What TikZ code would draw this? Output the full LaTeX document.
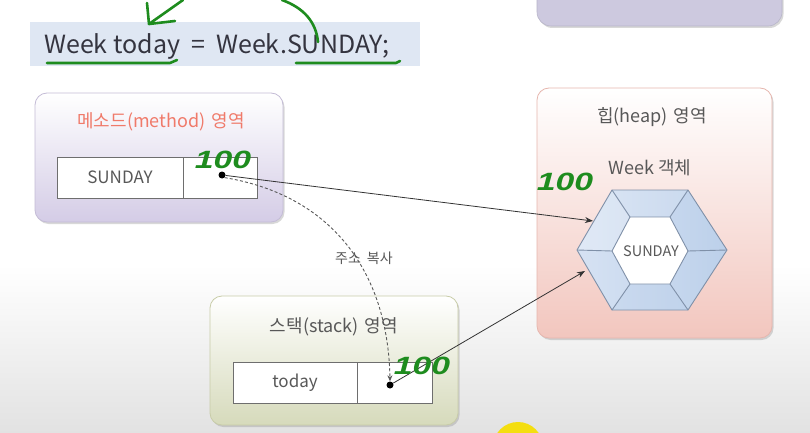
\documentclass[tikz,border=0pt]{standalone}
\usepackage{fontspec}
\setmainfont{Noto Sans CJK KR}
\newfontfamily\handfont{Liberation Sans}
\usetikzlibrary{shadows,arrows.meta,calc}
\definecolor{bggray}{HTML}{E2E2E2}
\definecolor{banner}{HTML}{DFE7F3}
\definecolor{codetxt}{HTML}{34343F}
\definecolor{txtgray}{HTML}{585858}
\definecolor{salmon}{HTML}{F07A6A}
\definecolor{lavtop}{HTML}{CDC9DF}
\definecolor{methbot}{HTML}{D4CCE6}
\definecolor{methbrd}{HTML}{C4BCD6}
\definecolor{heapbot}{HTML}{F2C6BE}
\definecolor{heapbrd}{HTML}{E6B6AE}
\definecolor{stackbot}{HTML}{D6DABB}
\definecolor{stackbrd}{HTML}{C8CCA8}
\definecolor{cellbrd}{HTML}{6E6E6E}
\definecolor{hexl}{HTML}{D6E2F3}
\definecolor{hexr}{HTML}{BCD0EA}
\definecolor{hexbrd}{HTML}{7F90A8}
\definecolor{hgreen}{HTML}{1E8C1E}
\definecolor{blob}{HTML}{F4DE10}
\tikzset{
  region/.style={rounded corners=12pt, line width=0.8pt, top color=white,
    drop shadow={shadow xshift=1.5pt, shadow yshift=-2pt, opacity=.3, fill=gray}},
  title/.style={font=\fontsize{18}{20}\selectfont, text=txtgray, inner sep=0pt},
  cell/.style={draw=cellbrd, line width=0.8pt, fill=white, font=\fontsize{17}{18}\selectfont, text=txtgray, inner sep=0pt},
  refdot/.style={circle, fill=black, inner sep=0pt, minimum size=7pt},
  ptr/.style={-{Stealth[length=8pt,width=6pt]}, line width=0.8pt, draw=black!80},
  copyptr/.style={-{Stealth[length=6pt,width=5pt]}, line width=0.9pt, draw=black!65, dash pattern=on 3pt off 2.2pt},
  hand/.style={draw=hgreen, line width=2.6pt, line cap=round, line join=round},
  greennum/.style={text=hgreen, font=\handfont\bfseries\itshape\fontsize{25}{25}\selectfont, inner sep=0pt, xscale=1.35}
}
\begin{document}
\begin{tikzpicture}[x=1pt,y=-1pt]
\useasboundingbox (0,0) rectangle (810,433);
\begin{scope}
\clip (0,0) rectangle (810,433);
% background
\fill[white] (0,0) rectangle (810,433);
\shade[top color=white, bottom color=bggray] (0,265) rectangle (810,433);
\fill[blob] (518,447) circle (25);
% top right box (partly cut)
\path[rounded corners=14pt, fill=lavtop, draw=lavtop!90!black, line width=0.6pt,
  drop shadow={shadow xshift=1.5pt, shadow yshift=-2pt, opacity=.3, fill=gray}]
  (537,-30) rectangle (782,26);
\end{scope}

% code banner
\node[fill=banner, minimum width=390pt, minimum height=44pt, inner sep=0pt] (banner) at (225,44) {};
\node[anchor=west, text=codetxt, font=\fontsize{25}{26}\selectfont, inner sep=0pt] (code) at (44,46)
  {Week\hspace{6pt}today\hspace{11pt}=\hspace{11pt}Week.SUNDAY;};

% method area
\node[region, draw=methbrd, bottom color=methbot, minimum width=248pt, minimum height=129pt] (method) at (159,157.5) {};
\node[title, text=salmon] (mtitle) at (161,122) {메소드(method)\hspace{6pt}영역};
\node[cell, minimum width=126pt, minimum height=41pt] (msun) at (120,177.5) {SUNDAY};
\node[cell, minimum width=74pt, minimum height=41pt] (mref) at (220,177.5) {};
\node[refdot] (mdot) at (222,175) {};

% heap area
\node[region, draw=heapbrd, bottom color=heapbot, minimum width=235pt, minimum height=250pt] (heap) at (654.5,213) {};
\node[title] (htitle) at (652,117) {힙(heap)\hspace{6pt}영역};
\node[title] (hweek) at (650,168) {Week\hspace{4pt}객체};
% hexagon
\coordinate (oL) at (577,250); \coordinate (oTL) at (612,190); \coordinate (oTR) at (688,190);
\coordinate (oR) at (727,250); \coordinate (oBR) at (688,310); \coordinate (oBL) at (612,310);
\coordinate (iL) at (612,251); \coordinate (iTL) at (630,217); \coordinate (iTR) at (670,217);
\coordinate (iR) at (688,251); \coordinate (iBR) at (670,284); \coordinate (iBL) at (630,284);
\shade[left color=hexl, right color=hexr] (oL) -- (oTL) -- (oTR) -- (oR) -- (oBR) -- (oBL) -- cycle;
\fill[white, opacity=.25] (oL) -- (oTL) -- (iTL) -- (iL) -- cycle;
\fill[white, opacity=.15] (oTL) -- (oTR) -- (iTR) -- (iTL) -- cycle;
\fill[hexr, opacity=.3] (oBL) -- (oBR) -- (iBR) -- (iBL) -- cycle;
\fill[white] (iL) -- (iTL) -- (iTR) -- (iR) -- (iBR) -- (iBL) -- cycle;
\draw[hexbrd, line width=0.9pt, line join=round] (oL) -- (oTL) -- (oTR) -- (oR) -- (oBR) -- (oBL) -- cycle;
\draw[hexbrd, line width=0.9pt, line join=round] (iL) -- (iTL) -- (iTR) -- (iR) -- (iBR) -- (iBL) -- cycle;
\draw[hexbrd, line width=0.9pt] (oL) -- (iL) (oTL) -- (iTL) (oTR) -- (iTR) (oR) -- (iR) (oBR) -- (iBR) (oBL) -- (iBL);
\node[font=\fontsize{14.5}{16}\selectfont, text=txtgray, inner sep=0pt] (hsun) at (651,251) {SUNDAY};
\coordinate (hexA) at (593,221);
\coordinate (hexB) at (585,271);

% stack area
\node[region, draw=stackbrd, bottom color=stackbot, minimum width=248pt, minimum height=129pt] (stack) at (334,360.5) {};
\node[title] (stitle) at (334,327) {스택(stack)\hspace{6pt}영역};
\node[cell, minimum width=124pt, minimum height=41pt] (stoday) at (295,382.5) {today};
\node[cell, minimum width=75pt, minimum height=41pt] (sref) at (394.5,382.5) {};
\node[refdot] (sdot) at (390,385) {};

% connectors
\draw[ptr] (mdot) -- (hexA);
\draw[ptr] (sdot) -- (hexB);
\draw[copyptr] (mdot.south east) .. controls (330,195) and (388,270) .. (sdot.north);
\node[font=\fontsize{14}{15}\selectfont, text=txtgray, inner sep=0pt] (copylbl) at (364,258) {주소\hspace{6pt}복사};

% green handwriting
\draw[hand] (47,63) -- (170,63) -- (177,60);
\draw[hand] (296,63) -- (396,63) -- (400,61);
\draw[hand] (183,0) -- (149,24);
\draw[hand] (147,3) -- (149,24) -- (175,21);
\draw[hand] (282,0) .. controls (304,8) and (316,22) .. (318,42);
\node[greennum] (n1) at (223,160) {100};
\node[greennum] (n2) at (422,366) {100};
\node[greennum] (n3) at (565,182) {100};
\end{tikzpicture}
\end{document}
